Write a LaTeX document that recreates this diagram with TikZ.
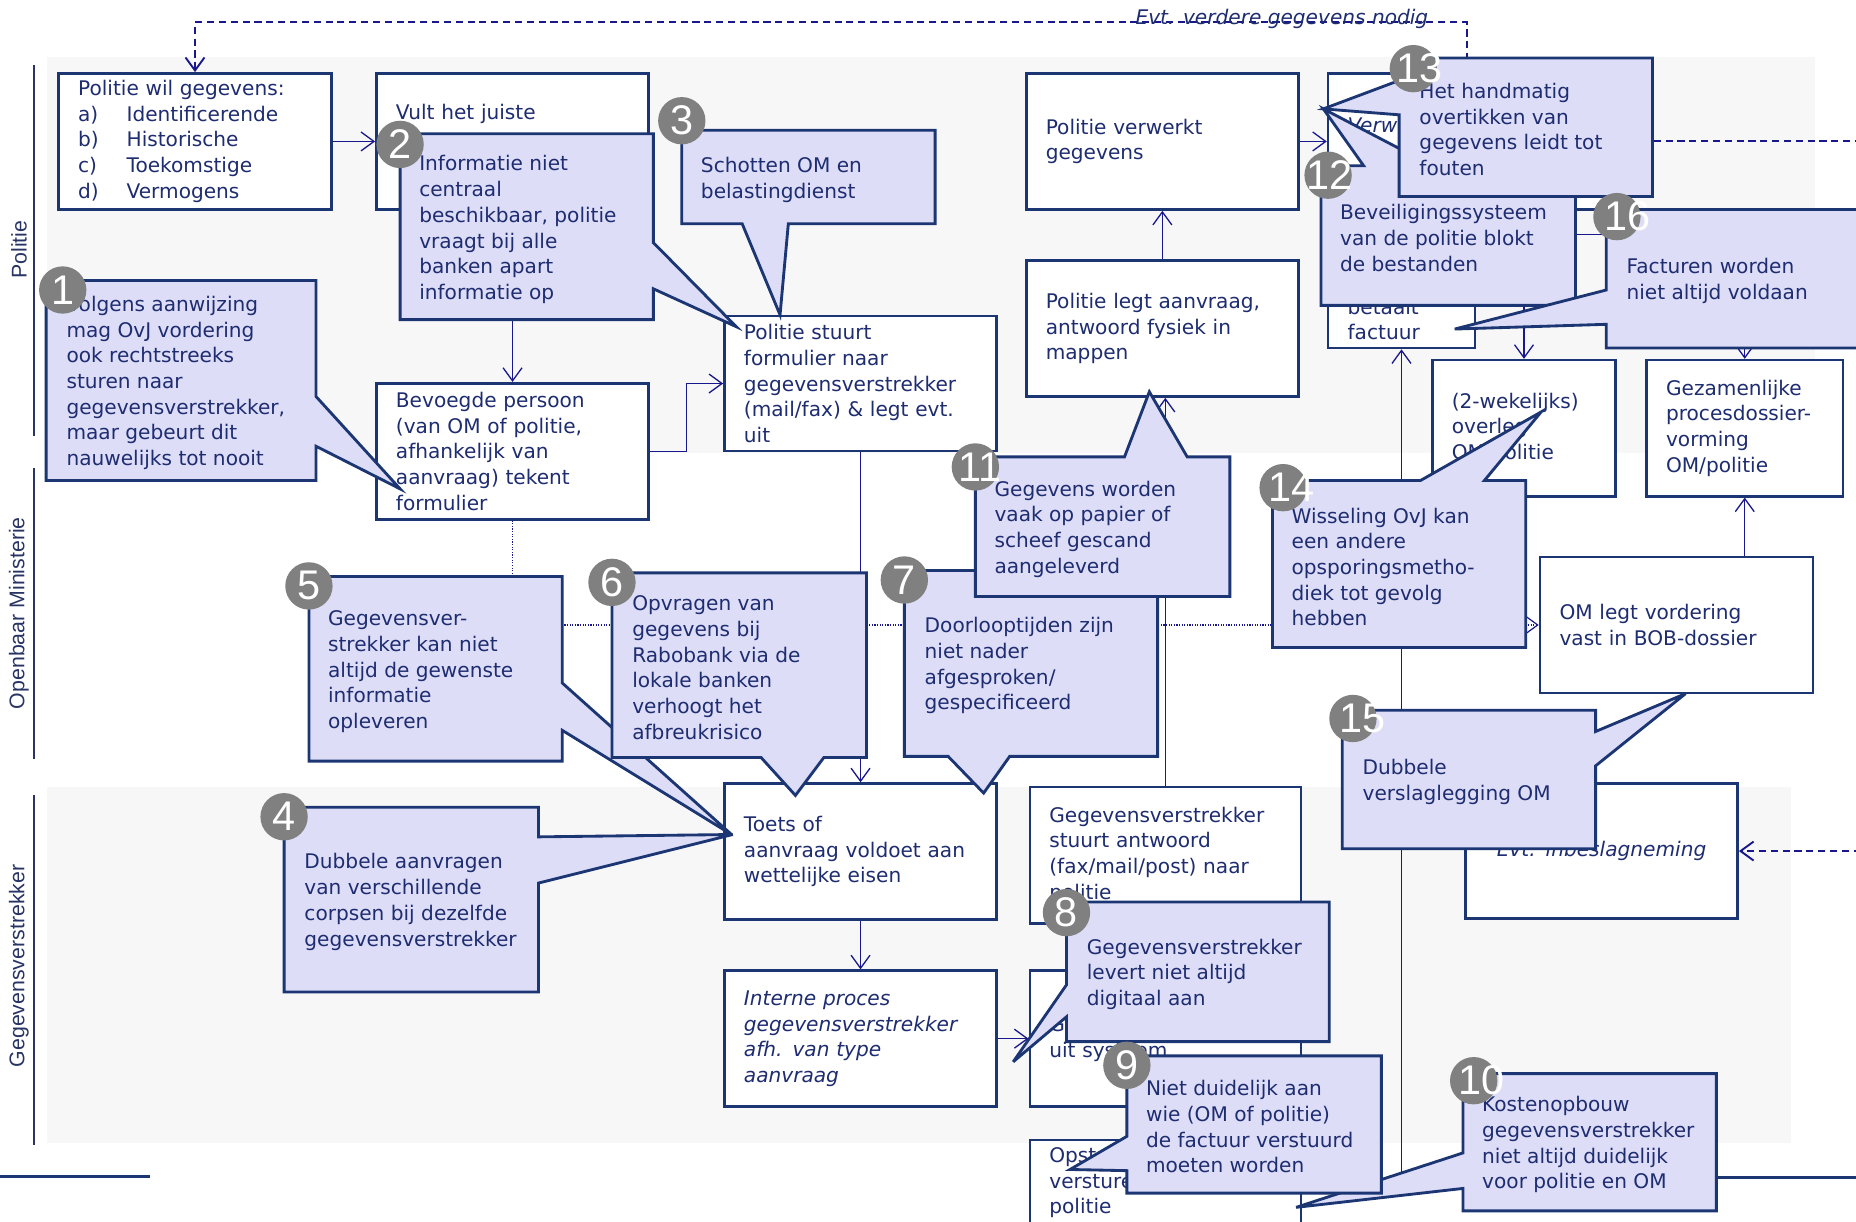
\documentclass[tikz,border=0pt]{standalone}
\usepackage{fontspec}
\setmainfont{DejaVu Sans}
\newfontfamily\lanefont{Liberation Sans}
\usetikzlibrary{arrows.meta}
\definecolor{navy}{RGB}{27,54,115}
\definecolor{txtnavy}{RGB}{30,44,112}
\definecolor{flowblue}{RGB}{24,24,140}
\definecolor{notefill}{RGB}{221,221,248}
\definecolor{lanegray}{RGB}{247,247,247}
\definecolor{lanetxt}{RGB}{40,52,100}
\definecolor{dotgray}{RGB}{128,128,128}
\begin{document}
\begin{tikzpicture}[x=1pt,y=-1pt,
		txt/.style={font=\fontsize{17}{21.7}\selectfont,text=txtnavy},
		ital/.style={font=\fontsize{17}{21.7}\selectfont\itshape},
		box/.style={txt,draw=navy,line width=2.2pt,fill=white,inner xsep=16.5pt,inner ysep=0pt,align=left},
		note/.style={draw=navy,line width=2.4pt,fill=notefill,miter limit=6},
		notetext/.style={txt,anchor=west,align=left,inner sep=0pt,yshift=-2pt},
		numdot/.style={circle,fill=dotgray,minimum size=40pt,inner sep=0pt},
		numtext/.style={text=white,font=\lanefont\fontsize{35}{35}\selectfont,inner sep=0pt},
		lane/.style={rotate=90,text=lanetxt,font=\lanefont\fontsize{18}{18}\selectfont},
		flow/.style={draw=flowblue,line width=1.1pt},
		arr/.style={-{Straight Barb[length=11pt,width=16pt]}},
		dashline/.style={draw=flowblue,line width=1.6pt,dash pattern=on 6pt off 4pt},
		dotline/.style={draw=flowblue,line width=1pt,dash pattern=on 1pt off 1.2pt}]

		\fill[white] (0,0) rectangle (1568,1032);
		\useasboundingbox (0,0) rectangle (1568,1032);
		\fill[lanegray] (40,48) rectangle (1533,383);
		\fill[lanegray] (40,665) rectangle (1513,966);

		\draw[lanetxt,line width=1.4pt] (29,55)--(29,368);
		\draw[lanetxt,line width=1.4pt] (29,395)--(29,641);
		\draw[lanetxt,line width=1.4pt] (29,672)--(29,967);
		\node[lane] (lpol) at (16,211) {Politie};
		\node[lane] (lom) at (16,518) {Openbaar Ministerie};
		\node[lane] (lgv) at (16,816) {Gegevensverstrekker};

		\node[box,text width=197.5pt,minimum height=115pt] (wil) at (164.75,119.5) {Politie wil gegevens:\\
			\makebox[41pt][l]{a)}Identificerende\\
			\makebox[41pt][l]{b)}Historische\\
			\makebox[41pt][l]{c)}Toekomstige\\
			\makebox[41pt][l]{d)}Vermogens};
		\node[box,text width=197pt,minimum height=115pt] (vult) at (433,119.5) {Vult het juiste\\\strut\\\strut};
		\node[box,text width=197pt,minimum height=115pt] (bevoegd) at (433,381.25) {Bevoegde persoon\\(van OM of politie,\\afhankelijk van\\aanvraag) tekent\\formulier};
		\node[box,text width=197pt,minimum height=114pt] (stuurt) at (727,324) {Politie stuurt\\formulier naar\\gegevensverstrekker\\(mail/fax) \& legt evt.\\uit};
		\node[box,text width=197pt,minimum height=115pt] (verwerkt) at (982,119.5) {Politie verwerkt\\gegevens};
		\node[box,text width=197pt,minimum height=115pt] (legt) at (982,277.5) {Politie legt aanvraag,\\antwoord fysiek in\\mappen};
		\node[box,ital,text width=201pt,minimum height=115pt] (verw) at (1239,119.5) {Verwerking\\\strut};
		\node[box,text width=91pt,minimum height=72pt] (betaalt) at (1184,258) {\strut\\betaalt\\factuur};
		\node[box,text width=122pt,minimum height=115pt] (overleg) at (1287.5,361.75) {(2-wekelijks)\\overleg\\OM/politie};
		\node[box,text width=133pt,minimum height=115pt] (gezamenlijk) at (1474,361.75) {Gezamenlijke\\procesdossier-\\vorming\\OM/politie};
		\node[box,text width=197.5pt,minimum height=115pt] (omlegt) at (1416.25,528) {OM legt vordering\\vast in BOB-dossier};
		\node[box,ital,text width=197pt,minimum height=114pt,align=center] (inbeslag) at (1353,719) {Evt. inbeslagneming};
		\node[box,text width=197pt,minimum height=115pt] (toets) at (727,719.5) {Toets of\\aanvraag voldoet aan\\wettelijke eisen};
		\node[box,ital,text width=197pt,minimum height=115pt] (intern) at (727,877.5) {Interne proces\\gegevensverstrekker\\afh. van type\\aanvraag};
		\node[box,text width=196pt,minimum height=115pt] (stuurtantw) at (984.5,722.5) {Gegevensverstrekker\\stuurt antwoord\\(fax/mail/post) naar\\politie};
		\node[box,text width=196pt,minimum height=115pt] (uitsys) at (984.5,877.5) {Gegevens halen\\uit systeem};
		\node[box,text width=196pt,minimum height=72pt] (opst) at (984.5,999) {Opstellen factuur,\\versturen naar\\politie};

		\coordinate (topleft) at (-2,994);
		\coordinate (topleftend) at (127,994);
		\coordinate (botright) at (1440,995);
		\coordinate (botrightend) at (1572,995);
		\draw[navy,line width=2.2pt] (topleft)--(topleftend);
		\draw[navy,line width=2.2pt] (botright)--(botrightend);

		\coordinate (factin) at (1184,1000);
		\coordinate (ovin) at (1287.5,240);
		\coordinate (gzin) at (1300,198);
		\coordinate (rightA) at (1572,119.5);
		\coordinate (rightB) at (1572,719);
		\draw[flow,arr] (wil.east)--(vult.west);
		\draw[flow,arr] (vult.south)--(bevoegd.north);
		\draw[flow,arr] (bevoegd.east)--++(31,0)|-(stuurt.west);
		\draw[flow,arr] (stuurt.south)--(toets.north);
		\draw[flow,arr] (toets.south)--(intern.north);
		\draw[flow,arr] (intern.east)--(uitsys.west);
		\draw[flow,arr] (stuurtantw.north)--(stuurtantw.north|-legt.south);
		\draw[flow,arr] (legt.north)--(verwerkt.south);
		\draw[flow,arr] (verwerkt.east)--(verw.west);
		\draw[flow,arr] (factin)--(betaalt.south);
		\draw[flow,arr] (ovin)--(overleg.north);
		\draw[flow,arr] (gzin)-|(gezamenlijk.north);
		\draw[flow,arr] (gezamenlijk.south|-omlegt.north)--(gezamenlijk.south);
		\draw[dotline,arr] (bevoegd.south)|-(omlegt.west);
		\draw[dashline,arr] (verw.north)--++(0,-42)-|(wil.north);
		\node[txt,ital,anchor=base,inner sep=0pt] (nodig) at (1083,21) {Evt. verdere gegevens nodig};
		\draw[dashline] (verw.east)--(rightA);
		\draw[dashline,arr] (rightB)--(inbeslag.east);

		\filldraw[note] (39,237)--(267,237)--(267,335)--(338,413)--(267,377)--(267,406)--(39,406)--cycle;
		\node[notetext] (t1) at (56,321.5) {Volgens aanwijzing\\mag OvJ vordering\\ook rechtstreeks\\sturen naar\\gegevensverstrekker,\\maar gebeurt dit\\nauwelijks tot nooit};
		\node[numdot] (n1) at (53,245) {};
		\node[numtext] at (n1) {1};

		\filldraw[note] (338,113)--(552,113)--(552,205)--(622,276)--(552,244)--(552,270)--(338,270)--cycle;
		\node[notetext] (t2) at (354,192) {Informatie niet\\centraal\\beschikbaar, politie\\vraagt bij alle\\banken apart\\informatie op};
		\node[numdot] (n2) at (338,122) {};
		\node[numtext] at (n2) {2};

		\filldraw[note] (576,110)--(790,110)--(790,189)--(666,189)--(659,266)--(627,189)--(576,189)--cycle;
		\node[notetext] (t3) at (592,150) {Schotten OM en\\belastingdienst};
		\node[numdot] (n3) at (576,102) {};
		\node[numtext] at (n3) {3};

		\filldraw[note] (240,682)--(455,682)--(455,707)--(619,705)--(455,746)--(455,838)--(240,838)--cycle;
		\node[notetext] (t4) at (257,760) {Dubbele aanvragen\\van verschillende\\corpsen bij dezelfde\\gegevensverstrekker};
		\node[numdot] (n4) at (240,690) {};
		\node[numtext] at (n4) {4};

		\filldraw[note] (261,487)--(475,487)--(475,577)--(618,705)--(475,617)--(475,643)--(261,643)--cycle;
		\node[notetext] (t5) at (277,565.5) {Gegevensver-\\strekker kan niet\\altijd de gewenste\\informatie\\opleveren};
		\node[numdot] (n5) at (261,495) {};
		\node[numtext] at (n5) {5};

		\filldraw[note] (517,484)--(732,484)--(732,640)--(696,640)--(672,672)--(643,640)--(517,640)--cycle;
		\node[notetext] (t6) at (534,562) {Opvragen van\\gegevens bij\\Rabobank via de\\lokale banken\\verhoogt het\\afbreukrisico};
		\node[numdot] (n6) at (517,492) {};
		\node[numtext] at (n6) {6};

		\filldraw[note] (764,482)--(978,482)--(978,639)--(853,639)--(831,670)--(801,639)--(764,639)--cycle;
		\node[notetext] (t7) at (781,560.5) {Doorlooptijden zijn\\niet nader\\afgesproken/\\gespecificeerd};
		\node[numdot] (n7) at (764,490) {};
		\node[numtext] at (n7) {7};

		\filldraw[note] (824,386)--(950,386)--(971,331)--(1003,386)--(1039,386)--(1039,504)--(824,504)--cycle;
		\node[notetext] (t11) at (840,445) {Gegevens worden\\vaak op papier of\\scheef gescand\\aangeleverd};
		\node[numdot] (n11) at (824,394.5) {};
		\node[numtext] at ([xshift=4pt]n11) {11};

		\filldraw[note] (901,762)--(1123,762)--(1123,880)--(901,880)--(901,859)--(856,897)--(901,832)--cycle;
		\node[notetext] (t8) at (918,821) {Gegevensverstrekker\\levert niet altijd\\digitaal aan};
		\node[numdot] (n8) at (901,771) {};
		\node[numtext] at (n8) {8};

		\filldraw[note] (1236,907)--(1450,907)--(1450,1023)--(1236,1023)--(1236,1004)--(1095,1020)--(1236,974)--cycle;
		\node[notetext] (t10) at (1252,965) {Kostenopbouw\\gegevensverstrekker\\niet altijd duidelijk\\voor politie en OM};
		\node[numdot] (n10) at (1245,913) {};
		\node[numtext] at ([xshift=7pt]n10) {10};

		\filldraw[note] (952,892)--(1167,892)--(1167,1008)--(952,1008)--(952,989)--(904,988)--(952,960)--cycle;
		\node[notetext] (t9) at (968,950) {Niet duidelijk aan\\wie (OM of politie)\\de factuur verstuurd\\moeten worden};
		\node[numdot] (n9) at (952,900) {};
		\node[numtext] at (n9) {9};

		\filldraw[note] (1116,140)--(1152,140)--(1118,92)--(1210,140)--(1331,140)--(1331,258)--(1116,258)--cycle;
		\node[notetext] (t12) at (1132,199) {Beveiligingssysteem\\van de politie blokt\\de bestanden};
		\node[numdot] (n12) at (1122,148) {};
		\node[numtext] at ([xshift=1pt]n12) {12};

		\filldraw[note] (1182,49)--(1396,49)--(1396,166)--(1182,166)--(1182,97)--(1118,92)--(1182,68)--cycle;
		\node[notetext] (t13) at (1199,107.5) {Het handmatig\\overtikken van\\gegevens leidt tot\\fouten};
		\node[numdot] (n13) at (1194,58) {};
		\node[numtext] at ([xshift=5pt]n13) {13};

		\filldraw[note] (1357,177)--(1610,177)--(1610,294)--(1357,294)--(1357,274)--(1229,278)--(1357,245)--cycle;
		\node[notetext] (t16) at (1374,235.5) {Facturen worden\\niet altijd voldaan};
		\node[numdot] (n16) at (1366,183) {};
		\node[numtext] at ([xshift=9pt]n16) {16};

		\filldraw[note] (1075,406)--(1200,406)--(1302,348)--(1254,406)--(1289,406)--(1289,547)--(1075,547)--cycle;
		\node[notetext] (t14) at (1091,477) {Wisseling OvJ kan\\een andere\\opsporingsmetho-\\diek tot gevolg\\hebben};
		\node[numdot] (n14) at (1084,412) {};
		\node[numtext] at ([xshift=7pt]n14) {14};

		\filldraw[note] (1134,600)--(1348,600)--(1348,618)--(1424,586)--(1348,647)--(1348,717)--(1134,717)--cycle;
		\node[notetext] (t15) at (1151,658.5) {Dubbele\\verslaglegging OM};
		\node[numdot] (n15) at (1143,607) {};
		\node[numtext] at ([xshift=8pt]n15) {15};
	\end{tikzpicture}
\end{document}
